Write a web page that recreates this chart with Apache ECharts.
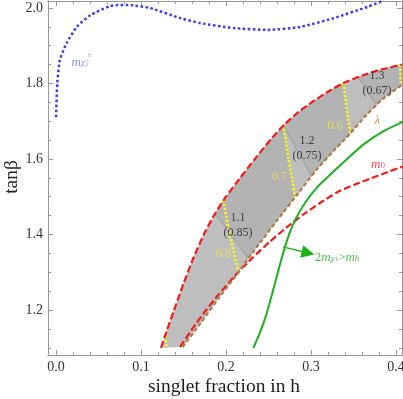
<!DOCTYPE html>
<html>
<head>
<meta charset="utf-8">
<script src="https://cdn.jsdelivr.net/npm/echarts@6/dist/echarts.min.js"></script>
<style>
  html, body { margin: 0; padding: 0; background: #fff; }
  #chart { width: 403px; height: 399px; }
</style>
</head>
<body>
<div id="chart"></div>
<script>
// tick labels
const xTicks = [0, 0.1, 0.2, 0.3, 0.4];
const yTicks = [1.2, 1.4, 1.6, 1.8, 2.0];
const xMinorTicks = [0.02, 0.04, 0.06, 0.08, 0.12, 0.14, 0.16, 0.18, 0.22, 0.24, 0.26, 0.28, 0.32, 0.34, 0.36, 0.38];
const yMinorTicks = [1.1, 1.15, 1.25, 1.3, 1.35, 1.45, 1.5, 1.55, 1.65, 1.7, 1.75, 1.85, 1.9, 1.95];

// curves, [singlet fraction, tan beta]
const charginoCurve = [
  [0.000, 1.711], [0.0015, 1.800], [0.0045, 1.862], [0.0125, 1.907], [0.0245, 1.950], [0.0405, 1.981],
  [0.0635, 2.005], [0.0755, 2.008], [0.0905, 2.007], [0.1105, 2.000], [0.1465, 1.973], [0.1695, 1.960],
  [0.2085, 1.947], [0.2485, 1.942], [0.2875, 1.950], [0.3265, 1.973], [0.3665, 2.003], [0.3855, 2.020],
];
const upperRed = [
  [0.1235, 1.100], [0.130, 1.143], [0.138, 1.194], [0.150, 1.270], [0.162, 1.340], [0.175, 1.405],
  [0.187, 1.455], [0.200, 1.500], [0.215, 1.545], [0.235, 1.603], [0.255, 1.658], [0.270, 1.694],
  [0.285, 1.724], [0.302, 1.752], [0.320, 1.778], [0.337, 1.800], [0.360, 1.821], [0.381, 1.836], [0.407, 1.850],
];
const lambdaCurve = [
  [0.149, 1.102], [0.171, 1.168], [0.191, 1.230], [0.213, 1.295], [0.236, 1.366], [0.261, 1.440],
  [0.286, 1.512], [0.306, 1.570], [0.326, 1.620], [0.346, 1.667], [0.365, 1.716], [0.385, 1.760], [0.407, 1.796],
];
const m0Curve = [
  [0.146, 1.102], [0.161, 1.152], [0.176, 1.198], [0.191, 1.240], [0.211, 1.292], [0.231, 1.338],
  [0.251, 1.380], [0.271, 1.418], [0.291, 1.453], [0.311, 1.484], [0.331, 1.512], [0.351, 1.532],
  [0.371, 1.549], [0.391, 1.566], [0.408, 1.580],
];
const invisibleDecay = [
  [0.2321, 1.099], [0.240, 1.140], [0.2479, 1.191], [0.2576, 1.271], [0.2674, 1.352], [0.2750, 1.405],
  [0.2830, 1.446], [0.2949, 1.490], [0.308, 1.527], [0.3224, 1.558], [0.3415, 1.598], [0.3615, 1.638],
  [0.385, 1.673], [0.4086, 1.699],
];
// yellow contours
const contour09 = [[0.1285, 1.131], [0.1302, 1.100]];
const contour08 = [[0.1968, 1.491], [0.2005, 1.445], [0.2050, 1.395], [0.2100, 1.345], [0.2145, 1.300]];
const contour07 = [[0.2674, 1.690], [0.2705, 1.645], [0.2735, 1.600], [0.2775, 1.550], [0.2812, 1.499]];
const contour06 = [[0.338, 1.801], [0.3405, 1.760], [0.343, 1.715], [0.3459, 1.670]];
const contour05 = [[0.4045, 1.849], [0.4058, 1.795]];
// thin grey dividers
const divider11 = [[0.1871, 1.456], [0.2262, 1.337]];
const divider12 = [[0.2674, 1.690], [0.3008, 1.553]];
const divider13 = [[0.3556, 1.817], [0.3773, 1.741]];
// arrow for 2m > mh
const arrowFrom = [0.2671, 1.367];
const arrowTo = [0.2965, 1.351];

const serif = '"Liberation Serif", "DejaVu Serif", serif';
const xMin = -0.0094, xMax = 0.4071;
const yMin = 1.0808, yMax = 2.0185;

function interp(c, x) {
  for (let i = 1; i < c.length; i++) {
    if (x <= c[i][0]) {
      const t = (x - c[i - 1][0]) / (c[i][0] - c[i - 1][0]);
      return [x, c[i - 1][1] + t * (c[i][1] - c[i - 1][1])];
    }
  }
  return c[c.length - 1];
}
function seg(c, a, b) {
  return [interp(c, a), ...c.filter(p => p[0] > a && p[0] < b), interp(c, b)];
}
function band(ua, ub, la, lb) {
  return [...seg(upperRed, ua, ub), ...seg(lambdaCurve, la, lb).reverse()];
}

function frameAxis(pos, min, max, ticks, len, labels, fmt) {
  return {
    type: 'value', position: pos, min, max,
    axisLine: { show: true, onZero: false, lineStyle: { color: '#999', width: 1 } },
    axisTick: { show: true, inside: true, length: len, customValues: ticks, lineStyle: { color: '#999', width: 1 } },
    axisLabel: labels
      ? { show: true, customValues: ticks, formatter: fmt, fontFamily: serif, fontSize: 14, color: '#333', margin: 5 }
      : { show: false },
    splitLine: { show: false },
  };
}

function polySeries(points, color, z) {
  return {
    type: 'custom', coordinateSystem: 'cartesian2d', silent: true, z, clip: true,
    data: [[0.2, 1.5]],
    renderItem: (params, api) => ({
      type: 'polygon',
      shape: { points: points.map(p => api.coord(p)) },
      style: { fill: color },
    }),
  };
}

function curve(data, color, type, width, z) {
  return {
    type: 'line', data, showSymbol: false, symbol: 'none', smooth: 0.2, z, silent: true,
    lineStyle: { color, type, width, cap: 'butt' },
  };
}

const chart = echarts.init(document.getElementById('chart'));

const fmt = v => v.toFixed(1);
const yellow = '#e8e84a';
const red = '#ee1c1c';
const brown = '#b07a48';
const green = '#1faf1f';
const blue = '#3a3aee';

const notes = [
  { value: [0.0282, 1.858], label: { formatter: '{m|m}{s|χ̃}{b|1}', rich: {
      m: { fontSize: 13, fontStyle: 'italic', fontFamily: serif, color: '#6a6ae6', lineHeight: 12, verticalAlign: 'top' },
      s: { fontSize: 9, fontStyle: 'italic', fontFamily: serif, color: '#6a6ae6', lineHeight: 9, padding: [5, 0, 0, 0], verticalAlign: 'bottom' },
      b: { fontSize: 7, fontFamily: serif, color: '#6a6ae6', lineHeight: 7, padding: [8, 0, 0, 0], verticalAlign: 'bottom' } } } },
  { value: [0.0392, 1.876], label: { formatter: '±', fontSize: 7, fontFamily: serif, color: '#6a6ae6' } },
  { value: [0.2141, 1.4238], label: { formatter: '1.1\n(0.85)', fontSize: 12, lineHeight: 15, fontFamily: serif, color: '#222' } },
  { value: [0.2953, 1.6291], label: { formatter: '1.2\n(0.75)', fontSize: 12, lineHeight: 15, fontFamily: serif, color: '#222' } },
  { value: [0.3776, 1.800], label: { formatter: '1.3\n(0.67)', fontSize: 12, lineHeight: 15, fontFamily: serif, color: '#222' } },
  { value: [0.1968, 1.3475], label: { formatter: '0.8', fontSize: 12, fontFamily: serif, color: yellow } },
  { value: [0.2629, 1.5531], label: { formatter: '0.7', fontSize: 12, fontFamily: serif, color: yellow } },
  { value: [0.3282, 1.6874], label: { formatter: '0.6', fontSize: 12, fontFamily: serif, color: yellow } },
  { value: [0.378, 1.7015], label: { formatter: 'λ', fontSize: 13, fontStyle: 'italic', fontFamily: serif, color: brown } },
  { value: [0.3788, 1.586], label: { formatter: '{i|m}{s|0}', rich: {
      i: { fontSize: 13, fontStyle: 'italic', fontFamily: serif, color: red, lineHeight: 12, verticalAlign: 'top' },
      s: { fontSize: 9, fontFamily: serif, color: red, lineHeight: 9, padding: [6, 0, 0, 0], verticalAlign: 'bottom' } } } },
  { value: [0.3306, 1.340], label: { formatter: '{a|2}{i|m}{s|χ}{b|1}{a|>}{i|m}{s|h}', rich: {
      a: { fontSize: 13, fontFamily: serif, color: green, lineHeight: 12, verticalAlign: 'top' },
      i: { fontSize: 13, fontStyle: 'italic', fontFamily: serif, color: green, lineHeight: 12, verticalAlign: 'top' },
      s: { fontSize: 9, fontStyle: 'italic', fontFamily: serif, color: green, lineHeight: 9, padding: [6, 0, 0, 0], verticalAlign: 'bottom' },
      b: { fontSize: 7, fontFamily: serif, color: green, lineHeight: 7, padding: [9, 0, 0, 0], verticalAlign: 'bottom' } } } },
];

chart.setOption({
  animation: false,
  backgroundColor: '#fff',
  grid: { left: 48, right: 1, top: 1, bottom: 44, containLabel: false, outerBoundsMode: 'none' },
  xAxis: [
    frameAxis('bottom', xMin, xMax, xTicks, 5, true, fmt),
    frameAxis('bottom', xMin, xMax, xMinorTicks, 3, false),
    frameAxis('top', xMin, xMax, xTicks, 5, false),
    frameAxis('top', xMin, xMax, xMinorTicks, 3, false),
  ],
  yAxis: [
    frameAxis('left', yMin, yMax, yTicks, 5, true, fmt),
    frameAxis('left', yMin, yMax, yMinorTicks, 3, false),
    frameAxis('right', yMin, yMax, yTicks, 5, false),
    frameAxis('right', yMin, yMax, yMinorTicks, 3, false),
  ],
  graphic: [
    { type: 'text', x: 224, y: 387, silent: true,
      style: { text: 'singlet fraction in h', font: '19.5px ' + serif, fill: '#222', align: 'center', verticalAlign: 'middle' } },
    { type: 'text', x: 12, y: 177, rotation: Math.PI / 2, silent: true,
      style: { text: 'tanβ', font: '19.5px ' + serif, fill: '#222', align: 'center', verticalAlign: 'middle' } },
  ],
  series: [
    polySeries(band(upperRed[0][0], 0.407, lambdaCurve[0][0], 0.407), '#bebebe', 1),
    polySeries(band(divider11[0][0], contour07[0][0], divider11[1][0], contour07[contour07.length - 1][0]), '#b3b3b3', 2),
    polySeries(band(divider12[0][0], contour06[0][0], divider12[1][0], contour06[contour06.length - 1][0]), '#b3b3b3', 2),
    polySeries(band(divider13[0][0], 0.407, divider13[1][0], 0.407), '#b3b3b3', 2),
    curve(divider11, '#8c8c8c', 'solid', 0.7, 3),
    curve(divider12, '#8c8c8c', 'solid', 0.7, 3),
    curve(divider13, '#8c8c8c', 'solid', 0.7, 3),
    curve(contour09, '#ffff00', [2, 2], 2.5, 4),
    curve(contour08, '#ffff00', [2, 2], 2.5, 4),
    curve(contour07, '#ffff00', [2, 2], 2.5, 4),
    curve(contour06, '#ffff00', [2, 2], 2.5, 4),
    curve(contour05, '#ffff00', [2, 2], 2.5, 4),
    curve(charginoCurve, blue, [2.5, 2.5], 2.5, 5),
    curve(m0Curve, red, [7, 3], 2.2, 5),
    curve(lambdaCurve, brown, [4, 2.5], 2.2, 5),
    curve(upperRed, red, [7, 3], 2.2, 6),
    curve(invisibleDecay, green, 'solid', 2, 5),
    {
      type: 'lines', coordinateSystem: 'cartesian2d', silent: true, z: 6,
      symbol: ['none', 'triangle'], symbolSize: 13,
      lineStyle: { color: green, width: 1.3, curveness: 0, opacity: 1 },
      data: [{ coords: [arrowFrom, arrowTo] }],
    },
    {
      type: 'scatter', symbolSize: 0, silent: true, z: 8,
      label: { show: true, position: 'inside' },
      data: notes,
    },
  ],
});
</script>
</body>
</html>
